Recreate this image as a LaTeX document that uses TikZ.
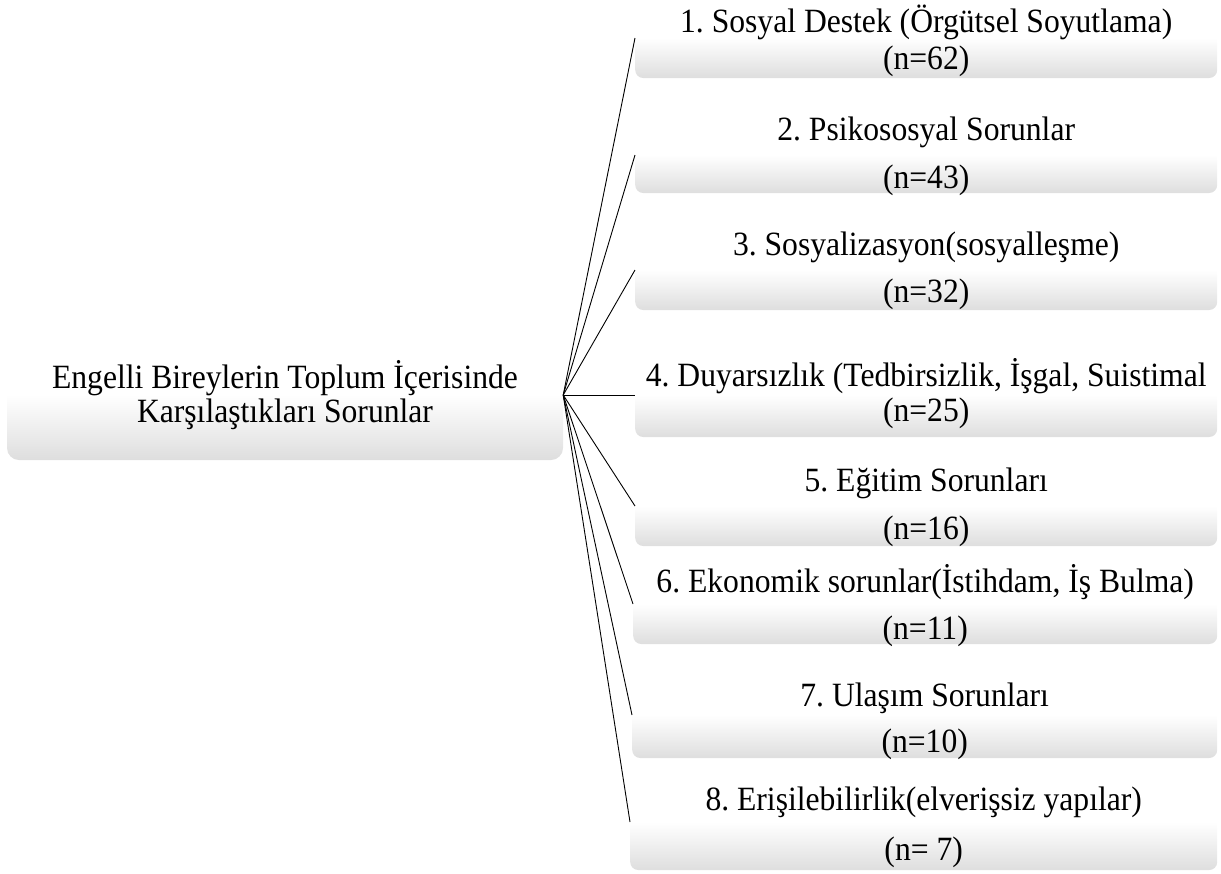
\documentclass[tikz,border=0pt]{standalone}
\usepackage{fontspec}
\setmainfont{Liberation Serif}[FakeStretch=0.93]
\frenchspacing
\begin{document}
\begin{tikzpicture}[x=1pt,y=-1pt,
  box/.style={rectangle, rounded corners=8pt, top color=white, bottom color=black!13, middle color=white,
    inner sep=0pt, anchor=west},
  txt/.style={inner sep=0pt, align=center, font=\fontsize{34}{36}\selectfont},
  conn/.style={draw=black, line width=0.9pt}]
\useasboundingbox (0,0) rectangle (1221,873);
\node[box, anchor=center, rounded corners=12pt, minimum width=556pt, minimum height=130pt] (root) at (285,395) {};
\node[txt] (t0) at (root.center) {Engelli Bireylerin Toplum İçerisinde\\[-2pt]Karşılaştıkları Sorunlar};
\node[box, minimum width=582pt, minimum height=80pt] (b1) at (635,38) {};
\node[box, minimum width=582pt, minimum height=76pt] (b2) at (635,155) {};
\node[box, minimum width=582pt, minimum height=80pt] (b3) at (635,270) {};
\node[box, minimum width=582pt, minimum height=84pt] (b4) at (635,395) {};
\node[box, minimum width=582pt, minimum height=80pt] (b5) at (635,506) {};
\node[box, minimum width=584pt, minimum height=80pt] (b6) at (633,604) {};
\node[box, minimum width=585pt, minimum height=86pt] (b7) at (632,715) {};
\node[box, minimum width=587pt, minimum height=96pt] (b8) at (630,822) {};
\node[txt] (t1) at ([yshift=-3pt]b1.center) {1. Sosyal Destek (Örgütsel Soyutlama)\\[1pt](n=62)};
\node[txt] (t2) at ([yshift=-1pt]b2.center) {2. Psikososyal Sorunlar\\[12pt](n=43)};
\node[txt] (t3) at ([yshift=-1pt]b3.center) {3. Sosyalizasyon(sosyalleşme)\\[11pt](n=32)};
\node[txt] (t4) at ([yshift=1pt]b4.center) {4. Duyarsızlık (Tedbirsizlik, İşgal, Suistimal\\[-1pt](n=25)};
\node[txt] (t5) at ([yshift=-1pt]b5.center) {5. Eğitim Sorunları\\[12pt](n=16)};
\node[txt] (t6) at ([yshift=-2pt]b6.center) {6. Ekonomik sorunlar(İstihdam, İş Bulma)\\[11pt](n=11)};
\node[txt] (t7) at ([yshift=-6pt]b7.center) {7. Ulaşım Sorunları\\[10pt](n=10)};
\node[txt] (t8) at ([yshift=-5pt]b8.center) {8. Erişilebilirlik(elverişsiz yapılar)\\[14pt](n=~7)};
\foreach \i in {1,...,8} \draw[conn] (root.east) -- (b\i.west);
\end{tikzpicture}
\end{document}
